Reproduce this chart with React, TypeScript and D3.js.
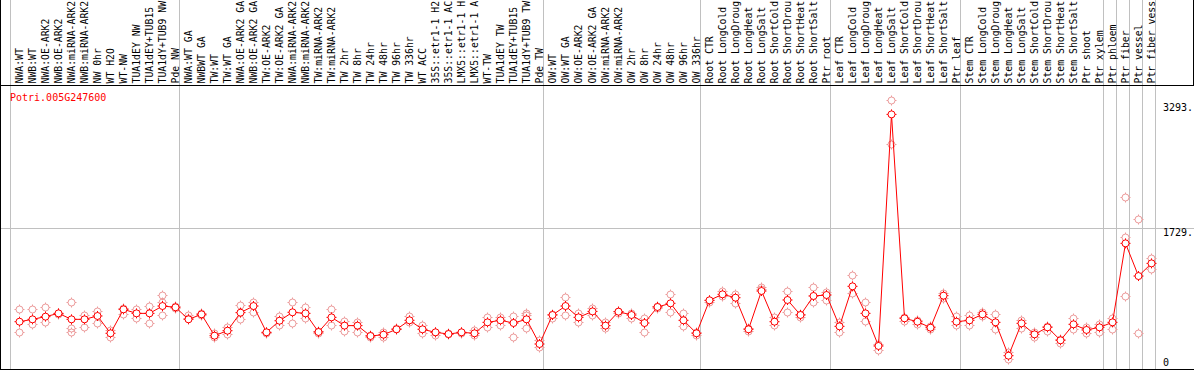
import React from "react";
import * as d3 from "d3";

const TITLE = "Potri.005G247600";

const groupNW = ["NWA:WT","NWB:WT","NWA:OE-ARK2","NWB:OE-ARK2","NWA:miRNA-ARK2","NWB:miRNA-ARK2","NW 0hr","WT H2O","WT-NW","TUA1dEY NW","TUA1dEY+TUB15","TUA1dY+TUB9 NW","Pde NW"];
const groupTW = ["NWA:WT GA","NWBWT GA","TW:WT","TW:WT GA","NWA:OE-ARK2 GA","NWB:OE-ARK2 GA","TW:OE-ARK2","TW:OE-ARK2 GA","NWA:miRNA-ARK2","NWB:miRNA-ARK2","TW:miRNA-ARK2","TW:miRNA-ARK2","TW 2hr","TW 8hr","TW 24hr","TW 48hr","TW 96hr","TW 336hr","WT ACC","35S::etr1-1 H2","35S::etr1-1 AC","LMX5::etr1-1 H","LMX5::etr1-1 A","WT-TW","TUA1dEY TW","TUA1dEY+TUB15","TUA1dY+TUB9 TW","Pde TW"];
const groupOW = ["OW:WT","OW:WT GA","OW:OE-ARK2","OW:OE-ARK2 GA","OW:miRNA-ARK2","OW:miRNA-ARK2","OW 2hr","OW 8hr","OW 24hr","OW 48hr","OW 96hr","OW 336hr"];
const groupRoot = ["Root CTR","Root LongCold","Root LongDroug","Root LongHeat","Root LongSalt","Root ShortCold","Root ShortDrou","Root ShortHeat","Root ShortSalt","Ptr root"];
const groupLeaf = ["Leaf CTR","Leaf LongCold","Leaf LongDroug","Leaf LongHeat","Leaf LongSalt","Leaf ShortCold","Leaf ShortDrou","Leaf ShortHeat","Leaf ShortSalt","Ptr leaf"];
const groupStem = ["Stem CTR","Stem LongCold","Stem LongDroug","Stem LongHeat","Stem LongSalt","Stem ShortCold","Stem ShortDrou","Stem ShortHeat","Stem ShortSalt","Ptr shoot","Ptr xylem"];
const groupPhloem = ["Ptr phloem"];
const groupFiber = ["Ptr fiber"];
const groupVessel = ["Ptr vessel"];
const groupFiberVessel = ["Ptr fiber vess"];

const groups = [groupNW, groupTW, groupOW, groupRoot, groupLeaf, groupStem, groupPhloem, groupFiber, groupVessel, groupFiberVessel];
const categories = groups.flat();

const means = [
  579, 608, 641, 681, 608, 608, 649, 437, 730, 681, 681, 771, 755,
  608, 669, 408, 469, 690, 771, 449, 591, 694, 681, 453, 632, 531, 531, 404, 420, 486, 596, 486, 449, 428, 449, 437, 571, 596, 563, 608, 306,
  661, 771, 632, 705, 531, 702, 661, 563, 759, 804, 596, 437,
  841, 914, 873, 486, 955, 579, 845, 661, 894, 906,
  522, 1012, 681, 282, 3117, 620, 579, 506, 898, 579,
  596, 669, 571, 163, 559, 424, 510, 351, 547, 478, 510,
  571, 1538, 1138, 1293,
];

const replicates = [
  [734, 457], [734, 547], [763, 571], [690, 669], [824, 498, 457], [661, 518], [710, 567], [478, 388], [751, 669], [734, 628], [771, 559], [906, 824, 661], [771, 743],
  [661, 628], [690, 661], [437, 388], [510, 428], [783, 608], [824, 702], [449, 437], [653, 539], [816, 567], [763, 620], [437, 465], [734, 539], [588, 465], [571, 457], [388, 416], [449, 396], [486, 506], [653, 571], [539, 437], [449, 416], [428, 445], [457, 437], [478, 416], [632, 510], [632, 539], [653, 396], [681, 661, 506], [355, 265],
  [620, 669], [877, 661], [681, 579], [751, 661], [571, 498], [710, 681], [681, 628], [620, 457], [771, 751], [914, 702], [690, 531], [416, 457],
  [824, 845], [959, 894], [914, 804], [465, 498], [1000, 979], [641, 539], [955, 702], [641, 669], [1004, 824], [938, 845],
  [571, 457], [1147, 926], [816, 592], [233, 302], [3293, 2750], [632, 592], [600, 547], [531, 490], [926, 865], [653, 539],
  [661, 539], [702, 653], [669, 486], [212, 122], [600, 498], [457, 388], [531, 465], [367, 322], [620, 490], [518, 437], [551, 457],
  [620, 486], [2110, 1612, 894], [1832, 441], [1363, 1224],
];

const yTickValues = [0, 1729, 3293];
const yTickLabels = ["0", "1729.", "3293."];
const gridValues = [1729];

const W = 1194;
const H = 370;
const HEADER_BOTTOM = 85;
const PLOT_BOTTOM = 369;
const FONT = "'DejaVu Sans Mono', 'Liberation Mono', monospace";

export default function App() {
  const x = d3
    .scaleLinear()
    .domain([0, categories.length])
    .range([10, 1155]);
  const px = (i: number) => Math.round(x(i) + 9) + 0.5;
  const y = d3.scaleLinear().domain([0, 3293]).range([PLOT_BOTTOM, 100]);

  const boundaries: number[] = [];
  let acc = 0;
  boundaries.push(0);
  groups.forEach((g) => {
    acc += g.length;
    boundaries.push(acc);
  });

  const line = d3
    .line<number>()
    .x((_, i) => px(i))
    .y((d) => y(d));

  const tickPath = (cx: number, cy: number) =>
    `M${cx - 5},${cy}h1.5M${cx + 3.5},${cy}h1.5M${cx},${cy - 5}v1.5M${cx},${cy + 3.5}v1.5`;

  return (
    <div style={{ position: "absolute", left: 0, top: 0 }}>
      <svg width={W} height={H} style={{ display: "block", background: "#fff" }}>
        {/* vertical group separators */}
        {boundaries.map((b, i) => (
          <line
            key={"b" + i}
            x1={Math.round(x(b)) + 0.5}
            x2={Math.round(x(b)) + 0.5}
            y1={0}
            y2={PLOT_BOTTOM}
            stroke="#c0c0c0"
            strokeWidth={1}
          />
        ))}
        {/* horizontal gridline */}
        {gridValues.map((v) => (
          <line
            key={"g" + v}
            x1={0}
            x2={W}
            y1={Math.round(y(v)) + 0.5}
            y2={Math.round(y(v)) + 0.5}
            stroke="#c0c0c0"
            strokeWidth={1}
          />
        ))}
        {/* frame */}
        <line x1={0} x2={W} y1={HEADER_BOTTOM + 0.5} y2={HEADER_BOTTOM + 0.5} stroke="#000" />
        <line x1={0} x2={W} y1={PLOT_BOTTOM + 0.5} y2={PLOT_BOTTOM + 0.5} stroke="#000" />
        <line x1={0.5} x2={0.5} y1={0} y2={PLOT_BOTTOM + 1} stroke="#000" />
        <line x1={W - 0.5} x2={W - 0.5} y1={0} y2={HEADER_BOTTOM} stroke="#000" />

        {/* header labels */}
        {categories.map((c, i) => (
          <text
            key={"h" + i}
            transform={`translate(${px(i) + 3.5},83.5) rotate(-90)`}
            fontFamily={FONT}
            fontSize={9.8}
            fill="#000"
          >
            {c}
          </text>
        ))}

        {/* title */}
        <text x={10} y={101} fontFamily={FONT} fontSize={10} fill="#ff0000">
          {TITLE}
        </text>

        {/* right axis labels */}
        {yTickValues.map((v, i) => (
          <text
            key={"t" + v}
            x={1163}
            y={Math.min(Math.max(y(v) + 8.5, 111), 365.5)}
            fontFamily={FONT}
            fontSize={10}
            fill="#000"
          >
            {yTickLabels[i]}
          </text>
        ))}

        {/* replicates */}
        {replicates.map((reps, i) =>
          reps.map((r, j) => (
            <g key={`r${i}-${j}`} stroke="#ec9a9a" fill="none" strokeWidth={1}>
              <circle cx={px(i)} cy={Math.round(y(r)) + 0.5} r={3.5} />
              <path d={tickPath(px(i), Math.round(y(r)) + 0.5)} />
            </g>
          ))
        )}

        {/* mean line */}
        <path d={line(means) || ""} fill="none" stroke="#ff0000" strokeWidth={1} />

        {/* means */}
        {means.map((m, i) => (
          <g key={"m" + i} stroke="#ff0000" strokeWidth={1}>
            <circle cx={px(i)} cy={y(m)} r={3.5} fill="#fff" />
            <path d={tickPath(px(i), y(m))} fill="none" />
          </g>
        ))}
      </svg>
    </div>
  );
}
